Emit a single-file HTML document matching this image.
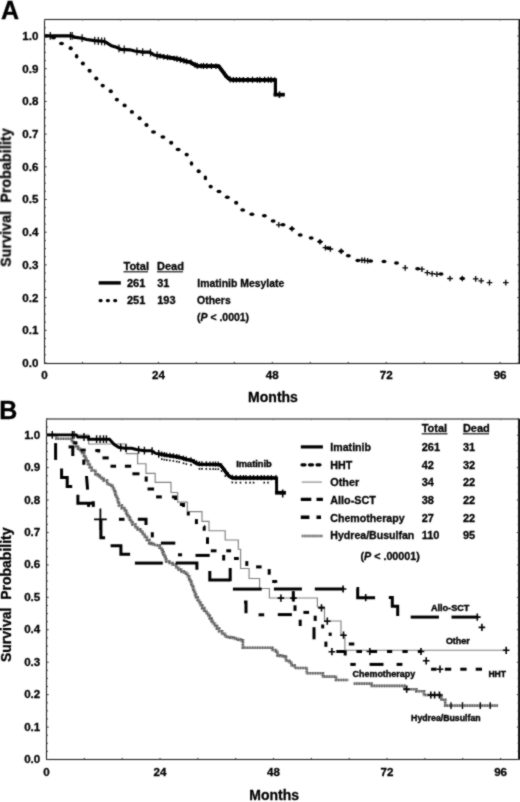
<!DOCTYPE html>
<html><head><meta charset="utf-8"><style>
html,body{margin:0;padding:0;background:#fff;}
svg{display:block;font-family:"Liberation Sans", sans-serif;filter:grayscale(1);}
text{stroke:#000;stroke-width:0.3px;}
</style></head><body>
<svg width="520" height="802" viewBox="0 0 520 802">
<defs><filter id="soft" x="0" y="0" width="100%" height="100%" filterUnits="userSpaceOnUse" color-interpolation-filters="sRGB"><feConvolveMatrix order="3" kernelMatrix="1 2 1 2 12 2 1 2 1" divisor="24" preserveAlpha="true"/></filter></defs>
<g filter="url(#soft)">
<rect width="520" height="802" fill="#fff"/>
<rect x="44.5" y="19.5" width="475.0" height="344.0" fill="none" stroke="#222" stroke-width="1.1"/>
<line x1="519.5" y1="19.5" x2="519.5" y2="363.5" stroke="#111" stroke-width="1.8"/>
<line x1="44.5" y1="363.00" x2="46.7" y2="363.00" stroke="#333" stroke-width="1"/>
<line x1="519.5" y1="363.00" x2="517.3" y2="363.00" stroke="#333" stroke-width="1"/>
<line x1="44.5" y1="354.82" x2="45.9" y2="354.82" stroke="#333" stroke-width="1"/>
<line x1="519.5" y1="354.82" x2="518.1" y2="354.82" stroke="#333" stroke-width="1"/>
<line x1="44.5" y1="346.65" x2="45.9" y2="346.65" stroke="#333" stroke-width="1"/>
<line x1="519.5" y1="346.65" x2="518.1" y2="346.65" stroke="#333" stroke-width="1"/>
<line x1="44.5" y1="338.48" x2="45.9" y2="338.48" stroke="#333" stroke-width="1"/>
<line x1="519.5" y1="338.48" x2="518.1" y2="338.48" stroke="#333" stroke-width="1"/>
<line x1="44.5" y1="330.30" x2="46.7" y2="330.30" stroke="#333" stroke-width="1"/>
<line x1="519.5" y1="330.30" x2="517.3" y2="330.30" stroke="#333" stroke-width="1"/>
<line x1="44.5" y1="322.12" x2="45.9" y2="322.12" stroke="#333" stroke-width="1"/>
<line x1="519.5" y1="322.12" x2="518.1" y2="322.12" stroke="#333" stroke-width="1"/>
<line x1="44.5" y1="313.95" x2="45.9" y2="313.95" stroke="#333" stroke-width="1"/>
<line x1="519.5" y1="313.95" x2="518.1" y2="313.95" stroke="#333" stroke-width="1"/>
<line x1="44.5" y1="305.77" x2="45.9" y2="305.77" stroke="#333" stroke-width="1"/>
<line x1="519.5" y1="305.77" x2="518.1" y2="305.77" stroke="#333" stroke-width="1"/>
<line x1="44.5" y1="297.60" x2="46.7" y2="297.60" stroke="#333" stroke-width="1"/>
<line x1="519.5" y1="297.60" x2="517.3" y2="297.60" stroke="#333" stroke-width="1"/>
<line x1="44.5" y1="289.43" x2="45.9" y2="289.43" stroke="#333" stroke-width="1"/>
<line x1="519.5" y1="289.43" x2="518.1" y2="289.43" stroke="#333" stroke-width="1"/>
<line x1="44.5" y1="281.25" x2="45.9" y2="281.25" stroke="#333" stroke-width="1"/>
<line x1="519.5" y1="281.25" x2="518.1" y2="281.25" stroke="#333" stroke-width="1"/>
<line x1="44.5" y1="273.07" x2="45.9" y2="273.07" stroke="#333" stroke-width="1"/>
<line x1="519.5" y1="273.07" x2="518.1" y2="273.07" stroke="#333" stroke-width="1"/>
<line x1="44.5" y1="264.90" x2="46.7" y2="264.90" stroke="#333" stroke-width="1"/>
<line x1="519.5" y1="264.90" x2="517.3" y2="264.90" stroke="#333" stroke-width="1"/>
<line x1="44.5" y1="256.73" x2="45.9" y2="256.73" stroke="#333" stroke-width="1"/>
<line x1="519.5" y1="256.73" x2="518.1" y2="256.73" stroke="#333" stroke-width="1"/>
<line x1="44.5" y1="248.55" x2="45.9" y2="248.55" stroke="#333" stroke-width="1"/>
<line x1="519.5" y1="248.55" x2="518.1" y2="248.55" stroke="#333" stroke-width="1"/>
<line x1="44.5" y1="240.38" x2="45.9" y2="240.38" stroke="#333" stroke-width="1"/>
<line x1="519.5" y1="240.38" x2="518.1" y2="240.38" stroke="#333" stroke-width="1"/>
<line x1="44.5" y1="232.20" x2="46.7" y2="232.20" stroke="#333" stroke-width="1"/>
<line x1="519.5" y1="232.20" x2="517.3" y2="232.20" stroke="#333" stroke-width="1"/>
<line x1="44.5" y1="224.02" x2="45.9" y2="224.02" stroke="#333" stroke-width="1"/>
<line x1="519.5" y1="224.02" x2="518.1" y2="224.02" stroke="#333" stroke-width="1"/>
<line x1="44.5" y1="215.85" x2="45.9" y2="215.85" stroke="#333" stroke-width="1"/>
<line x1="519.5" y1="215.85" x2="518.1" y2="215.85" stroke="#333" stroke-width="1"/>
<line x1="44.5" y1="207.67" x2="45.9" y2="207.67" stroke="#333" stroke-width="1"/>
<line x1="519.5" y1="207.67" x2="518.1" y2="207.67" stroke="#333" stroke-width="1"/>
<line x1="44.5" y1="199.50" x2="46.7" y2="199.50" stroke="#333" stroke-width="1"/>
<line x1="519.5" y1="199.50" x2="517.3" y2="199.50" stroke="#333" stroke-width="1"/>
<line x1="44.5" y1="191.32" x2="45.9" y2="191.32" stroke="#333" stroke-width="1"/>
<line x1="519.5" y1="191.32" x2="518.1" y2="191.32" stroke="#333" stroke-width="1"/>
<line x1="44.5" y1="183.15" x2="45.9" y2="183.15" stroke="#333" stroke-width="1"/>
<line x1="519.5" y1="183.15" x2="518.1" y2="183.15" stroke="#333" stroke-width="1"/>
<line x1="44.5" y1="174.97" x2="45.9" y2="174.97" stroke="#333" stroke-width="1"/>
<line x1="519.5" y1="174.97" x2="518.1" y2="174.97" stroke="#333" stroke-width="1"/>
<line x1="44.5" y1="166.80" x2="46.7" y2="166.80" stroke="#333" stroke-width="1"/>
<line x1="519.5" y1="166.80" x2="517.3" y2="166.80" stroke="#333" stroke-width="1"/>
<line x1="44.5" y1="158.62" x2="45.9" y2="158.62" stroke="#333" stroke-width="1"/>
<line x1="519.5" y1="158.62" x2="518.1" y2="158.62" stroke="#333" stroke-width="1"/>
<line x1="44.5" y1="150.45" x2="45.9" y2="150.45" stroke="#333" stroke-width="1"/>
<line x1="519.5" y1="150.45" x2="518.1" y2="150.45" stroke="#333" stroke-width="1"/>
<line x1="44.5" y1="142.27" x2="45.9" y2="142.27" stroke="#333" stroke-width="1"/>
<line x1="519.5" y1="142.27" x2="518.1" y2="142.27" stroke="#333" stroke-width="1"/>
<line x1="44.5" y1="134.10" x2="46.7" y2="134.10" stroke="#333" stroke-width="1"/>
<line x1="519.5" y1="134.10" x2="517.3" y2="134.10" stroke="#333" stroke-width="1"/>
<line x1="44.5" y1="125.92" x2="45.9" y2="125.92" stroke="#333" stroke-width="1"/>
<line x1="519.5" y1="125.92" x2="518.1" y2="125.92" stroke="#333" stroke-width="1"/>
<line x1="44.5" y1="117.75" x2="45.9" y2="117.75" stroke="#333" stroke-width="1"/>
<line x1="519.5" y1="117.75" x2="518.1" y2="117.75" stroke="#333" stroke-width="1"/>
<line x1="44.5" y1="109.57" x2="45.9" y2="109.57" stroke="#333" stroke-width="1"/>
<line x1="519.5" y1="109.57" x2="518.1" y2="109.57" stroke="#333" stroke-width="1"/>
<line x1="44.5" y1="101.40" x2="46.7" y2="101.40" stroke="#333" stroke-width="1"/>
<line x1="519.5" y1="101.40" x2="517.3" y2="101.40" stroke="#333" stroke-width="1"/>
<line x1="44.5" y1="93.22" x2="45.9" y2="93.22" stroke="#333" stroke-width="1"/>
<line x1="519.5" y1="93.22" x2="518.1" y2="93.22" stroke="#333" stroke-width="1"/>
<line x1="44.5" y1="85.05" x2="45.9" y2="85.05" stroke="#333" stroke-width="1"/>
<line x1="519.5" y1="85.05" x2="518.1" y2="85.05" stroke="#333" stroke-width="1"/>
<line x1="44.5" y1="76.88" x2="45.9" y2="76.88" stroke="#333" stroke-width="1"/>
<line x1="519.5" y1="76.88" x2="518.1" y2="76.88" stroke="#333" stroke-width="1"/>
<line x1="44.5" y1="68.70" x2="46.7" y2="68.70" stroke="#333" stroke-width="1"/>
<line x1="519.5" y1="68.70" x2="517.3" y2="68.70" stroke="#333" stroke-width="1"/>
<line x1="44.5" y1="60.52" x2="45.9" y2="60.52" stroke="#333" stroke-width="1"/>
<line x1="519.5" y1="60.52" x2="518.1" y2="60.52" stroke="#333" stroke-width="1"/>
<line x1="44.5" y1="52.35" x2="45.9" y2="52.35" stroke="#333" stroke-width="1"/>
<line x1="519.5" y1="52.35" x2="518.1" y2="52.35" stroke="#333" stroke-width="1"/>
<line x1="44.5" y1="44.17" x2="45.9" y2="44.17" stroke="#333" stroke-width="1"/>
<line x1="519.5" y1="44.17" x2="518.1" y2="44.17" stroke="#333" stroke-width="1"/>
<line x1="44.5" y1="36.00" x2="46.7" y2="36.00" stroke="#333" stroke-width="1"/>
<line x1="519.5" y1="36.00" x2="517.3" y2="36.00" stroke="#333" stroke-width="1"/>
<line x1="44.5" y1="27.82" x2="45.9" y2="27.82" stroke="#333" stroke-width="1"/>
<line x1="519.5" y1="27.82" x2="518.1" y2="27.82" stroke="#333" stroke-width="1"/>
<line x1="44.5" y1="19.65" x2="45.9" y2="19.65" stroke="#333" stroke-width="1"/>
<line x1="519.5" y1="19.65" x2="518.1" y2="19.65" stroke="#333" stroke-width="1"/>
<line x1="44.50" y1="363.5" x2="44.50" y2="361.9" stroke="#333" stroke-width="1"/>
<line x1="44.50" y1="19.5" x2="44.50" y2="20.9" stroke="#777" stroke-width="0.8"/>
<line x1="82.47" y1="363.5" x2="82.47" y2="361.9" stroke="#333" stroke-width="1"/>
<line x1="82.47" y1="19.5" x2="82.47" y2="20.9" stroke="#777" stroke-width="0.8"/>
<line x1="120.44" y1="363.5" x2="120.44" y2="361.9" stroke="#333" stroke-width="1"/>
<line x1="120.44" y1="19.5" x2="120.44" y2="20.9" stroke="#777" stroke-width="0.8"/>
<line x1="158.40" y1="363.5" x2="158.40" y2="361.9" stroke="#333" stroke-width="1"/>
<line x1="158.40" y1="19.5" x2="158.40" y2="20.9" stroke="#777" stroke-width="0.8"/>
<line x1="196.37" y1="363.5" x2="196.37" y2="361.9" stroke="#333" stroke-width="1"/>
<line x1="196.37" y1="19.5" x2="196.37" y2="20.9" stroke="#777" stroke-width="0.8"/>
<line x1="234.34" y1="363.5" x2="234.34" y2="361.9" stroke="#333" stroke-width="1"/>
<line x1="234.34" y1="19.5" x2="234.34" y2="20.9" stroke="#777" stroke-width="0.8"/>
<line x1="272.31" y1="363.5" x2="272.31" y2="361.9" stroke="#333" stroke-width="1"/>
<line x1="272.31" y1="19.5" x2="272.31" y2="20.9" stroke="#777" stroke-width="0.8"/>
<line x1="310.28" y1="363.5" x2="310.28" y2="361.9" stroke="#333" stroke-width="1"/>
<line x1="310.28" y1="19.5" x2="310.28" y2="20.9" stroke="#777" stroke-width="0.8"/>
<line x1="348.24" y1="363.5" x2="348.24" y2="361.9" stroke="#333" stroke-width="1"/>
<line x1="348.24" y1="19.5" x2="348.24" y2="20.9" stroke="#777" stroke-width="0.8"/>
<line x1="386.21" y1="363.5" x2="386.21" y2="361.9" stroke="#333" stroke-width="1"/>
<line x1="386.21" y1="19.5" x2="386.21" y2="20.9" stroke="#777" stroke-width="0.8"/>
<line x1="424.18" y1="363.5" x2="424.18" y2="361.9" stroke="#333" stroke-width="1"/>
<line x1="424.18" y1="19.5" x2="424.18" y2="20.9" stroke="#777" stroke-width="0.8"/>
<line x1="462.15" y1="363.5" x2="462.15" y2="361.9" stroke="#333" stroke-width="1"/>
<line x1="462.15" y1="19.5" x2="462.15" y2="20.9" stroke="#777" stroke-width="0.8"/>
<line x1="500.12" y1="363.5" x2="500.12" y2="361.9" stroke="#333" stroke-width="1"/>
<line x1="500.12" y1="19.5" x2="500.12" y2="20.9" stroke="#777" stroke-width="0.8"/>
<text x="38.4" y="366.90" font-size="11.6" text-anchor="end" font-weight="bold" >0.0</text>
<text x="38.4" y="334.20" font-size="11.6" text-anchor="end" font-weight="bold" >0.1</text>
<text x="38.4" y="301.50" font-size="11.6" text-anchor="end" font-weight="bold" >0.2</text>
<text x="38.4" y="268.80" font-size="11.6" text-anchor="end" font-weight="bold" >0.3</text>
<text x="38.4" y="236.10" font-size="11.6" text-anchor="end" font-weight="bold" >0.4</text>
<text x="38.4" y="203.40" font-size="11.6" text-anchor="end" font-weight="bold" >0.5</text>
<text x="38.4" y="170.70" font-size="11.6" text-anchor="end" font-weight="bold" >0.6</text>
<text x="38.4" y="138.00" font-size="11.6" text-anchor="end" font-weight="bold" >0.7</text>
<text x="38.4" y="105.30" font-size="11.6" text-anchor="end" font-weight="bold" >0.8</text>
<text x="38.4" y="72.60" font-size="11.6" text-anchor="end" font-weight="bold" >0.9</text>
<text x="38.4" y="39.90" font-size="11.6" text-anchor="end" font-weight="bold" >1.0</text>
<text x="44.50" y="379.2" font-size="11.6" text-anchor="middle" font-weight="bold" >0</text>
<text x="158.40" y="379.2" font-size="11.6" text-anchor="middle" font-weight="bold" >24</text>
<text x="272.31" y="379.2" font-size="11.6" text-anchor="middle" font-weight="bold" >48</text>
<text x="386.21" y="379.2" font-size="11.6" text-anchor="middle" font-weight="bold" >72</text>
<text x="500.12" y="379.2" font-size="11.6" text-anchor="middle" font-weight="bold" >96</text>
<text x="273" y="402.3" font-size="14" text-anchor="middle" font-weight="bold" >Months</text>
<text x="0" y="0" font-size="14" font-weight="bold" text-anchor="middle" transform="translate(10.75,197.55) rotate(-90)" textLength="138.4" lengthAdjust="spacing">Survival&#160; Probability</text>
<rect x="46.5" y="419.0" width="472.5" height="340.5" fill="none" stroke="#222" stroke-width="1.1"/>
<line x1="519.0" y1="419.0" x2="519.0" y2="759.5" stroke="#111" stroke-width="1.8"/>
<line x1="46.5" y1="759.50" x2="48.7" y2="759.50" stroke="#333" stroke-width="1"/>
<line x1="519.0" y1="759.50" x2="516.8" y2="759.50" stroke="#333" stroke-width="1"/>
<line x1="46.5" y1="751.39" x2="47.9" y2="751.39" stroke="#333" stroke-width="1"/>
<line x1="519.0" y1="751.39" x2="517.6" y2="751.39" stroke="#333" stroke-width="1"/>
<line x1="46.5" y1="743.28" x2="47.9" y2="743.28" stroke="#333" stroke-width="1"/>
<line x1="519.0" y1="743.28" x2="517.6" y2="743.28" stroke="#333" stroke-width="1"/>
<line x1="46.5" y1="735.18" x2="47.9" y2="735.18" stroke="#333" stroke-width="1"/>
<line x1="519.0" y1="735.18" x2="517.6" y2="735.18" stroke="#333" stroke-width="1"/>
<line x1="46.5" y1="727.07" x2="48.7" y2="727.07" stroke="#333" stroke-width="1"/>
<line x1="519.0" y1="727.07" x2="516.8" y2="727.07" stroke="#333" stroke-width="1"/>
<line x1="46.5" y1="718.96" x2="47.9" y2="718.96" stroke="#333" stroke-width="1"/>
<line x1="519.0" y1="718.96" x2="517.6" y2="718.96" stroke="#333" stroke-width="1"/>
<line x1="46.5" y1="710.86" x2="47.9" y2="710.86" stroke="#333" stroke-width="1"/>
<line x1="519.0" y1="710.86" x2="517.6" y2="710.86" stroke="#333" stroke-width="1"/>
<line x1="46.5" y1="702.75" x2="47.9" y2="702.75" stroke="#333" stroke-width="1"/>
<line x1="519.0" y1="702.75" x2="517.6" y2="702.75" stroke="#333" stroke-width="1"/>
<line x1="46.5" y1="694.64" x2="48.7" y2="694.64" stroke="#333" stroke-width="1"/>
<line x1="519.0" y1="694.64" x2="516.8" y2="694.64" stroke="#333" stroke-width="1"/>
<line x1="46.5" y1="686.53" x2="47.9" y2="686.53" stroke="#333" stroke-width="1"/>
<line x1="519.0" y1="686.53" x2="517.6" y2="686.53" stroke="#333" stroke-width="1"/>
<line x1="46.5" y1="678.42" x2="47.9" y2="678.42" stroke="#333" stroke-width="1"/>
<line x1="519.0" y1="678.42" x2="517.6" y2="678.42" stroke="#333" stroke-width="1"/>
<line x1="46.5" y1="670.32" x2="47.9" y2="670.32" stroke="#333" stroke-width="1"/>
<line x1="519.0" y1="670.32" x2="517.6" y2="670.32" stroke="#333" stroke-width="1"/>
<line x1="46.5" y1="662.21" x2="48.7" y2="662.21" stroke="#333" stroke-width="1"/>
<line x1="519.0" y1="662.21" x2="516.8" y2="662.21" stroke="#333" stroke-width="1"/>
<line x1="46.5" y1="654.10" x2="47.9" y2="654.10" stroke="#333" stroke-width="1"/>
<line x1="519.0" y1="654.10" x2="517.6" y2="654.10" stroke="#333" stroke-width="1"/>
<line x1="46.5" y1="646.00" x2="47.9" y2="646.00" stroke="#333" stroke-width="1"/>
<line x1="519.0" y1="646.00" x2="517.6" y2="646.00" stroke="#333" stroke-width="1"/>
<line x1="46.5" y1="637.89" x2="47.9" y2="637.89" stroke="#333" stroke-width="1"/>
<line x1="519.0" y1="637.89" x2="517.6" y2="637.89" stroke="#333" stroke-width="1"/>
<line x1="46.5" y1="629.78" x2="48.7" y2="629.78" stroke="#333" stroke-width="1"/>
<line x1="519.0" y1="629.78" x2="516.8" y2="629.78" stroke="#333" stroke-width="1"/>
<line x1="46.5" y1="621.67" x2="47.9" y2="621.67" stroke="#333" stroke-width="1"/>
<line x1="519.0" y1="621.67" x2="517.6" y2="621.67" stroke="#333" stroke-width="1"/>
<line x1="46.5" y1="613.57" x2="47.9" y2="613.57" stroke="#333" stroke-width="1"/>
<line x1="519.0" y1="613.57" x2="517.6" y2="613.57" stroke="#333" stroke-width="1"/>
<line x1="46.5" y1="605.46" x2="47.9" y2="605.46" stroke="#333" stroke-width="1"/>
<line x1="519.0" y1="605.46" x2="517.6" y2="605.46" stroke="#333" stroke-width="1"/>
<line x1="46.5" y1="597.35" x2="48.7" y2="597.35" stroke="#333" stroke-width="1"/>
<line x1="519.0" y1="597.35" x2="516.8" y2="597.35" stroke="#333" stroke-width="1"/>
<line x1="46.5" y1="589.24" x2="47.9" y2="589.24" stroke="#333" stroke-width="1"/>
<line x1="519.0" y1="589.24" x2="517.6" y2="589.24" stroke="#333" stroke-width="1"/>
<line x1="46.5" y1="581.13" x2="47.9" y2="581.13" stroke="#333" stroke-width="1"/>
<line x1="519.0" y1="581.13" x2="517.6" y2="581.13" stroke="#333" stroke-width="1"/>
<line x1="46.5" y1="573.03" x2="47.9" y2="573.03" stroke="#333" stroke-width="1"/>
<line x1="519.0" y1="573.03" x2="517.6" y2="573.03" stroke="#333" stroke-width="1"/>
<line x1="46.5" y1="564.92" x2="48.7" y2="564.92" stroke="#333" stroke-width="1"/>
<line x1="519.0" y1="564.92" x2="516.8" y2="564.92" stroke="#333" stroke-width="1"/>
<line x1="46.5" y1="556.81" x2="47.9" y2="556.81" stroke="#333" stroke-width="1"/>
<line x1="519.0" y1="556.81" x2="517.6" y2="556.81" stroke="#333" stroke-width="1"/>
<line x1="46.5" y1="548.70" x2="47.9" y2="548.70" stroke="#333" stroke-width="1"/>
<line x1="519.0" y1="548.70" x2="517.6" y2="548.70" stroke="#333" stroke-width="1"/>
<line x1="46.5" y1="540.60" x2="47.9" y2="540.60" stroke="#333" stroke-width="1"/>
<line x1="519.0" y1="540.60" x2="517.6" y2="540.60" stroke="#333" stroke-width="1"/>
<line x1="46.5" y1="532.49" x2="48.7" y2="532.49" stroke="#333" stroke-width="1"/>
<line x1="519.0" y1="532.49" x2="516.8" y2="532.49" stroke="#333" stroke-width="1"/>
<line x1="46.5" y1="524.38" x2="47.9" y2="524.38" stroke="#333" stroke-width="1"/>
<line x1="519.0" y1="524.38" x2="517.6" y2="524.38" stroke="#333" stroke-width="1"/>
<line x1="46.5" y1="516.27" x2="47.9" y2="516.27" stroke="#333" stroke-width="1"/>
<line x1="519.0" y1="516.27" x2="517.6" y2="516.27" stroke="#333" stroke-width="1"/>
<line x1="46.5" y1="508.17" x2="47.9" y2="508.17" stroke="#333" stroke-width="1"/>
<line x1="519.0" y1="508.17" x2="517.6" y2="508.17" stroke="#333" stroke-width="1"/>
<line x1="46.5" y1="500.06" x2="48.7" y2="500.06" stroke="#333" stroke-width="1"/>
<line x1="519.0" y1="500.06" x2="516.8" y2="500.06" stroke="#333" stroke-width="1"/>
<line x1="46.5" y1="491.95" x2="47.9" y2="491.95" stroke="#333" stroke-width="1"/>
<line x1="519.0" y1="491.95" x2="517.6" y2="491.95" stroke="#333" stroke-width="1"/>
<line x1="46.5" y1="483.84" x2="47.9" y2="483.84" stroke="#333" stroke-width="1"/>
<line x1="519.0" y1="483.84" x2="517.6" y2="483.84" stroke="#333" stroke-width="1"/>
<line x1="46.5" y1="475.74" x2="47.9" y2="475.74" stroke="#333" stroke-width="1"/>
<line x1="519.0" y1="475.74" x2="517.6" y2="475.74" stroke="#333" stroke-width="1"/>
<line x1="46.5" y1="467.63" x2="48.7" y2="467.63" stroke="#333" stroke-width="1"/>
<line x1="519.0" y1="467.63" x2="516.8" y2="467.63" stroke="#333" stroke-width="1"/>
<line x1="46.5" y1="459.52" x2="47.9" y2="459.52" stroke="#333" stroke-width="1"/>
<line x1="519.0" y1="459.52" x2="517.6" y2="459.52" stroke="#333" stroke-width="1"/>
<line x1="46.5" y1="451.41" x2="47.9" y2="451.41" stroke="#333" stroke-width="1"/>
<line x1="519.0" y1="451.41" x2="517.6" y2="451.41" stroke="#333" stroke-width="1"/>
<line x1="46.5" y1="443.31" x2="47.9" y2="443.31" stroke="#333" stroke-width="1"/>
<line x1="519.0" y1="443.31" x2="517.6" y2="443.31" stroke="#333" stroke-width="1"/>
<line x1="46.5" y1="435.20" x2="48.7" y2="435.20" stroke="#333" stroke-width="1"/>
<line x1="519.0" y1="435.20" x2="516.8" y2="435.20" stroke="#333" stroke-width="1"/>
<line x1="46.5" y1="427.09" x2="47.9" y2="427.09" stroke="#333" stroke-width="1"/>
<line x1="519.0" y1="427.09" x2="517.6" y2="427.09" stroke="#333" stroke-width="1"/>
<line x1="46.5" y1="418.98" x2="47.9" y2="418.98" stroke="#333" stroke-width="1"/>
<line x1="519.0" y1="418.98" x2="517.6" y2="418.98" stroke="#333" stroke-width="1"/>
<line x1="46.50" y1="759.5" x2="46.50" y2="757.9" stroke="#333" stroke-width="1"/>
<line x1="46.50" y1="419.0" x2="46.50" y2="420.4" stroke="#777" stroke-width="0.8"/>
<line x1="84.34" y1="759.5" x2="84.34" y2="757.9" stroke="#333" stroke-width="1"/>
<line x1="84.34" y1="419.0" x2="84.34" y2="420.4" stroke="#777" stroke-width="0.8"/>
<line x1="122.18" y1="759.5" x2="122.18" y2="757.9" stroke="#333" stroke-width="1"/>
<line x1="122.18" y1="419.0" x2="122.18" y2="420.4" stroke="#777" stroke-width="0.8"/>
<line x1="160.02" y1="759.5" x2="160.02" y2="757.9" stroke="#333" stroke-width="1"/>
<line x1="160.02" y1="419.0" x2="160.02" y2="420.4" stroke="#777" stroke-width="0.8"/>
<line x1="197.86" y1="759.5" x2="197.86" y2="757.9" stroke="#333" stroke-width="1"/>
<line x1="197.86" y1="419.0" x2="197.86" y2="420.4" stroke="#777" stroke-width="0.8"/>
<line x1="235.70" y1="759.5" x2="235.70" y2="757.9" stroke="#333" stroke-width="1"/>
<line x1="235.70" y1="419.0" x2="235.70" y2="420.4" stroke="#777" stroke-width="0.8"/>
<line x1="273.54" y1="759.5" x2="273.54" y2="757.9" stroke="#333" stroke-width="1"/>
<line x1="273.54" y1="419.0" x2="273.54" y2="420.4" stroke="#777" stroke-width="0.8"/>
<line x1="311.38" y1="759.5" x2="311.38" y2="757.9" stroke="#333" stroke-width="1"/>
<line x1="311.38" y1="419.0" x2="311.38" y2="420.4" stroke="#777" stroke-width="0.8"/>
<line x1="349.22" y1="759.5" x2="349.22" y2="757.9" stroke="#333" stroke-width="1"/>
<line x1="349.22" y1="419.0" x2="349.22" y2="420.4" stroke="#777" stroke-width="0.8"/>
<line x1="387.06" y1="759.5" x2="387.06" y2="757.9" stroke="#333" stroke-width="1"/>
<line x1="387.06" y1="419.0" x2="387.06" y2="420.4" stroke="#777" stroke-width="0.8"/>
<line x1="424.90" y1="759.5" x2="424.90" y2="757.9" stroke="#333" stroke-width="1"/>
<line x1="424.90" y1="419.0" x2="424.90" y2="420.4" stroke="#777" stroke-width="0.8"/>
<line x1="462.74" y1="759.5" x2="462.74" y2="757.9" stroke="#333" stroke-width="1"/>
<line x1="462.74" y1="419.0" x2="462.74" y2="420.4" stroke="#777" stroke-width="0.8"/>
<line x1="500.58" y1="759.5" x2="500.58" y2="757.9" stroke="#333" stroke-width="1"/>
<line x1="500.58" y1="419.0" x2="500.58" y2="420.4" stroke="#777" stroke-width="0.8"/>
<text x="40.3" y="763.00" font-size="11.6" text-anchor="end" font-weight="bold" >0.0</text>
<text x="40.3" y="730.57" font-size="11.6" text-anchor="end" font-weight="bold" >0.1</text>
<text x="40.3" y="698.14" font-size="11.6" text-anchor="end" font-weight="bold" >0.2</text>
<text x="40.3" y="665.71" font-size="11.6" text-anchor="end" font-weight="bold" >0.3</text>
<text x="40.3" y="633.28" font-size="11.6" text-anchor="end" font-weight="bold" >0.4</text>
<text x="40.3" y="600.85" font-size="11.6" text-anchor="end" font-weight="bold" >0.5</text>
<text x="40.3" y="568.42" font-size="11.6" text-anchor="end" font-weight="bold" >0.6</text>
<text x="40.3" y="535.99" font-size="11.6" text-anchor="end" font-weight="bold" >0.7</text>
<text x="40.3" y="503.56" font-size="11.6" text-anchor="end" font-weight="bold" >0.8</text>
<text x="40.3" y="471.13" font-size="11.6" text-anchor="end" font-weight="bold" >0.9</text>
<text x="40.3" y="438.70" font-size="11.6" text-anchor="end" font-weight="bold" >1.0</text>
<text x="46.50" y="775.6" font-size="11.6" text-anchor="middle" font-weight="bold" >0</text>
<text x="160.02" y="775.6" font-size="11.6" text-anchor="middle" font-weight="bold" >24</text>
<text x="273.54" y="775.6" font-size="11.6" text-anchor="middle" font-weight="bold" >48</text>
<text x="387.06" y="775.6" font-size="11.6" text-anchor="middle" font-weight="bold" >72</text>
<text x="500.58" y="775.6" font-size="11.6" text-anchor="middle" font-weight="bold" >96</text>
<text x="274.2" y="800.4" font-size="14" text-anchor="middle" font-weight="bold" >Months</text>
<text x="0" y="0" font-size="14" font-weight="bold" text-anchor="middle" transform="translate(10.75,594.8) rotate(-90)">Survival&#160; Probability</text>
<text x="1" y="18.8" font-size="25" text-anchor="start" font-weight="bold" >A</text>
<text x="-0.7" y="418.9" font-size="25" text-anchor="start" font-weight="bold" >B</text>
<text x="123.5" y="270" font-size="11" text-anchor="start" font-weight="bold" >Total</text>
<text x="157" y="270" font-size="11" text-anchor="start" font-weight="bold" >Dead</text>
<line x1="123.5" y1="271.8" x2="148" y2="271.8" stroke="#000" stroke-width="1.1"/>
<line x1="157" y1="271.8" x2="183" y2="271.8" stroke="#000" stroke-width="1.1"/>
<line x1="98.7" y1="282.9" x2="120.8" y2="282.9" stroke="#000" stroke-width="3.4"/>
<line x1="100.2" y1="300.6" x2="116" y2="300.6" stroke="#000" stroke-width="3.4" stroke-linecap="round" stroke-dasharray="0.8 6.5"/>
<text x="127" y="286.8" font-size="11" text-anchor="start" font-weight="bold" >261</text>
<text x="157.2" y="286.8" font-size="11" text-anchor="start" font-weight="bold" >31</text>
<text x="197.3" y="287.3" font-size="11" text-anchor="start" font-weight="bold"  textLength="87.0" lengthAdjust="spacingAndGlyphs">Imatinib Mesylate</text>
<text x="127" y="304.2" font-size="11" text-anchor="start" font-weight="bold" >251</text>
<text x="157.2" y="304.2" font-size="11" text-anchor="start" font-weight="bold" >193</text>
<text x="197.1" y="304.3" font-size="11" text-anchor="start" font-weight="bold"  textLength="33.6" lengthAdjust="spacingAndGlyphs">Others</text>
<text x="197.1" y="321.3" font-size="11" text-anchor="start" font-weight="bold"  textLength="52.0" lengthAdjust="spacingAndGlyphs">(<tspan font-style="italic">P</tspan> &lt; .0001)</text>
<text x="421.7" y="432" font-size="11" text-anchor="start" font-weight="bold" >Total</text>
<text x="462.9" y="432" font-size="11" text-anchor="start" font-weight="bold" >Dead</text>
<line x1="421.7" y1="433.8" x2="447.5" y2="433.8" stroke="#000" stroke-width="1.1"/>
<line x1="462.9" y1="433.8" x2="489" y2="433.8" stroke="#000" stroke-width="1.1"/>
<text x="330.3" y="450.9" font-size="11" text-anchor="start" font-weight="bold"  textLength="40.7" lengthAdjust="spacingAndGlyphs">Imatinib</text>
<text x="421.7" y="450.9" font-size="11" text-anchor="start" font-weight="bold" >261</text>
<text x="462.9" y="450.9" font-size="11" text-anchor="start" font-weight="bold" >31</text>
<text x="330.3" y="468.5" font-size="11" text-anchor="start" font-weight="bold"  textLength="22.0" lengthAdjust="spacingAndGlyphs">HHT</text>
<text x="421.7" y="468.5" font-size="11" text-anchor="start" font-weight="bold" >42</text>
<text x="462.9" y="468.5" font-size="11" text-anchor="start" font-weight="bold" >32</text>
<text x="330.3" y="486.1" font-size="11" text-anchor="start" font-weight="bold"  textLength="28.8" lengthAdjust="spacingAndGlyphs">Other</text>
<text x="421.7" y="486.1" font-size="11" text-anchor="start" font-weight="bold" >34</text>
<text x="462.9" y="486.1" font-size="11" text-anchor="start" font-weight="bold" >22</text>
<text x="330.3" y="503.8" font-size="11" text-anchor="start" font-weight="bold"  textLength="45.5" lengthAdjust="spacingAndGlyphs">Allo-SCT</text>
<text x="421.7" y="503.8" font-size="11" text-anchor="start" font-weight="bold" >38</text>
<text x="462.9" y="503.8" font-size="11" text-anchor="start" font-weight="bold" >22</text>
<text x="330.3" y="521.5" font-size="11" text-anchor="start" font-weight="bold"  textLength="74.3" lengthAdjust="spacingAndGlyphs">Chemotherapy</text>
<text x="421.7" y="521.5" font-size="11" text-anchor="start" font-weight="bold" >27</text>
<text x="462.9" y="521.5" font-size="11" text-anchor="start" font-weight="bold" >22</text>
<text x="330.3" y="539.3" font-size="11" text-anchor="start" font-weight="bold"  textLength="84.0" lengthAdjust="spacingAndGlyphs">Hydrea/Busulfan</text>
<text x="421.7" y="539.3" font-size="11" text-anchor="start" font-weight="bold" >110</text>
<text x="462.9" y="539.3" font-size="11" text-anchor="start" font-weight="bold" >95</text>
<text x="360.5" y="559.6" font-size="11" text-anchor="start" font-weight="bold"  textLength="59.3" lengthAdjust="spacingAndGlyphs">(<tspan font-style="italic">P</tspan> &lt; .00001)</text>
<line x1="300.8" y1="446.9" x2="322.9" y2="446.9" stroke="#000" stroke-width="3.2"/>
<line x1="302" y1="464.8" x2="323" y2="464.8" stroke="#000" stroke-width="3.2" stroke-linecap="round" stroke-dasharray="3 4.5"/>
<line x1="301.7" y1="482.1" x2="321.9" y2="482.1" stroke="#8a8a8a" stroke-width="1.2"/>
<line x1="300.8" y1="499.4" x2="322.9" y2="499.4" stroke="#000" stroke-width="3.4" stroke-dasharray="10.5 5.2"/>
<line x1="300.8" y1="517.3" x2="321" y2="517.3" stroke="#000" stroke-width="3.4" stroke-dasharray="8.6 7.1"/>
<line x1="301.7" y1="536.0" x2="322.9" y2="536.0" stroke="#a2a2a2" stroke-width="2.6"/>
<line x1="301.7" y1="536.0" x2="322.9" y2="536.0" stroke="#4a4a4a" stroke-width="2.6" stroke-dasharray="1.3 1.3" opacity="0.5"/>
<text x="236.2" y="466.9" font-size="9.5" text-anchor="start" font-weight="bold"  textLength="35.6" lengthAdjust="spacingAndGlyphs" style="stroke-width:0.42px">Imatinib</text>
<text x="430.9" y="611.2" font-size="9.5" text-anchor="start" font-weight="bold"  textLength="38.5" lengthAdjust="spacingAndGlyphs" style="stroke-width:0.42px">Allo-SCT</text>
<text x="445.9" y="644.2" font-size="9.5" text-anchor="start" font-weight="bold"  textLength="23.9" lengthAdjust="spacingAndGlyphs" style="stroke-width:0.42px">Other</text>
<text x="488.4" y="676.8" font-size="9.5" text-anchor="start" font-weight="bold"  textLength="17.7" lengthAdjust="spacingAndGlyphs" style="stroke-width:0.42px">HHT</text>
<text x="352.6" y="677.2" font-size="9.5" text-anchor="start" font-weight="bold"  textLength="62.5" lengthAdjust="spacingAndGlyphs" style="stroke-width:0.42px">Chemotherapy</text>
<text x="411.1" y="720.8" font-size="9.5" text-anchor="start" font-weight="bold"  textLength="69.5" lengthAdjust="spacingAndGlyphs" style="stroke-width:0.42px">Hydrea/Busulfan</text>
<path d="M45.0,35.8 L72.0,35.8 L74.0,37.2 L82.1,38.2 L86.7,39.5 L94.8,40.7 L104.6,41.5 L106.9,42.9 L111.5,45.8 L117.3,47.5 L120.8,49.3 L130.0,49.8 L134.6,51.0 L142.7,52.2 L149.6,52.2 L154.2,55.0 L160.0,56.0 L165.2,57.0 L173.3,58.1 L179.1,59.3 L184.8,61.0 L190.6,62.2 L194.1,64.5 L197.5,65.8 L218.5,66.2 L220.8,68.8 L226.2,76.3 L229.6,79.3 L232.5,79.8 L275.4,79.8 L275.4,94.6 L284.6,94.6" fill="none" stroke="#000" stroke-width="3.2" stroke-linejoin="miter" />
<path d="M157.1,55.5 L160.0,56.0 L165.2,57.0 L173.3,58.1 L179.1,59.3 L184.8,61.0 L190.6,62.2 L194.1,64.5 L197.5,65.8 L218.5,66.2 L220.8,68.8 L226.2,76.3 L229.6,79.3 L232.5,79.8 L275.0,79.8" fill="none" stroke="#000" stroke-width="3.7" stroke-linejoin="miter" />
<path d="M47.7,35.8 H52.9 M50.3,31.9 V39.7" stroke="#000" stroke-width="1.2" fill="none"/>
<path d="M67.9,35.8 H73.1 M70.5,31.9 V39.7" stroke="#000" stroke-width="1.2" fill="none"/>
<path d="M69.6,35.9 H74.8 M72.2,32.0 V39.8" stroke="#000" stroke-width="1.2" fill="none"/>
<path d="M79.5,38.2 H84.7 M82.1,34.3 V42.1" stroke="#000" stroke-width="1.2" fill="none"/>
<path d="M92.2,40.7 H97.4 M94.8,36.8 V44.6" stroke="#000" stroke-width="1.2" fill="none"/>
<path d="M95.7,41.0 H100.9 M98.3,37.1 V44.9" stroke="#000" stroke-width="1.2" fill="none"/>
<path d="M99.1,41.3 H104.3 M101.7,37.4 V45.2" stroke="#000" stroke-width="1.2" fill="none"/>
<path d="M102.0,41.5 H107.2 M104.6,37.6 V45.4" stroke="#000" stroke-width="1.2" fill="none"/>
<path d="M116.4,48.4 H121.6 M119.0,44.5 V52.3" stroke="#000" stroke-width="1.2" fill="none"/>
<path d="M121.6,49.5 H126.8 M124.2,45.6 V53.4" stroke="#000" stroke-width="1.2" fill="none"/>
<path d="M134.3,51.3 H139.5 M136.9,47.4 V55.2" stroke="#000" stroke-width="1.2" fill="none"/>
<path d="M140.1,52.2 H145.3 M142.7,48.3 V56.1" stroke="#000" stroke-width="1.2" fill="none"/>
<path d="M147.9,52.7 H153.1 M150.5,48.8 V56.6" stroke="#000" stroke-width="1.2" fill="none"/>
<path d="M154.5,55.5 H159.7 M157.1,51.6 V59.4" stroke="#000" stroke-width="1.2" fill="none"/>
<path d="M160.1,53.4 V58.6" stroke="#000" stroke-width="1.3"/>
<path d="M163.7,54.0 V59.4" stroke="#000" stroke-width="1.3"/>
<path d="M167.5,54.4 V60.2" stroke="#000" stroke-width="1.3"/>
<path d="M169.9,55.2 V60.0" stroke="#000" stroke-width="1.3"/>
<path d="M174.2,55.7 V60.9" stroke="#000" stroke-width="1.3"/>
<path d="M177.0,55.7 V62.1" stroke="#000" stroke-width="1.3"/>
<path d="M180.5,56.6 V62.8" stroke="#000" stroke-width="1.3"/>
<path d="M183.9,57.8 V63.6" stroke="#000" stroke-width="1.3"/>
<path d="M186.5,58.4 V64.3" stroke="#000" stroke-width="1.3"/>
<path d="M191.0,59.6 V65.2" stroke="#000" stroke-width="1.3"/>
<path d="M195.1,61.9 V67.8" stroke="#000" stroke-width="1.3"/>
<path d="M197.4,62.8 V68.8" stroke="#000" stroke-width="1.3"/>
<path d="M201.2,63.2 V68.5" stroke="#000" stroke-width="1.3"/>
<path d="M203.5,62.8 V69.0" stroke="#000" stroke-width="1.3"/>
<path d="M206.9,63.0 V69.0" stroke="#000" stroke-width="1.3"/>
<path d="M211.4,63.1 V69.0" stroke="#000" stroke-width="1.3"/>
<path d="M216.0,63.4 V68.9" stroke="#000" stroke-width="1.3"/>
<path d="M220.3,65.4 V70.9" stroke="#000" stroke-width="1.3"/>
<path d="M224.9,71.4 V77.6" stroke="#000" stroke-width="1.3"/>
<path d="M227.3,74.8 V79.8" stroke="#000" stroke-width="1.3"/>
<path d="M230.1,76.2 V82.6" stroke="#000" stroke-width="1.3"/>
<path d="M233.4,76.9 V82.7" stroke="#000" stroke-width="1.3"/>
<path d="M236.4,77.0 V82.6" stroke="#000" stroke-width="1.3"/>
<path d="M239.6,77.1 V82.5" stroke="#000" stroke-width="1.3"/>
<path d="M243.3,76.9 V82.7" stroke="#000" stroke-width="1.3"/>
<path d="M247.9,76.9 V82.7" stroke="#000" stroke-width="1.3"/>
<path d="M252.5,76.7 V82.9" stroke="#000" stroke-width="1.3"/>
<path d="M257.3,76.9 V82.7" stroke="#000" stroke-width="1.3"/>
<path d="M259.9,76.7 V82.9" stroke="#000" stroke-width="1.3"/>
<path d="M264.6,76.7 V82.9" stroke="#000" stroke-width="1.3"/>
<path d="M268.3,76.8 V82.8" stroke="#000" stroke-width="1.3"/>
<path d="M271.0,76.7 V82.9" stroke="#000" stroke-width="1.3"/>
<path d="M274.7,77.2 V82.4" stroke="#000" stroke-width="1.3"/>
<path d="M273.6,94.6 H284.6" stroke="#000" stroke-width="3.6"/>
<path d="M277.0,94.6 H282.0 M279.5,91.2 V98.0" stroke="#000" stroke-width="1.5" fill="none"/>
<circle cx="46.5" cy="35.8" r="1.6" fill="#000"/>
<ellipse cx="53.5" cy="37.7" rx="2.5" ry="1.75" fill="#000"/>
<ellipse cx="61.5" cy="43.5" rx="2.5" ry="1.75" fill="#000"/>
<ellipse cx="70.7" cy="48.2" rx="2.1" ry="1.95" fill="#000"/>
<ellipse cx="76.6" cy="56.3" rx="1.75" ry="2.3" fill="#000"/>
<ellipse cx="82.9" cy="63.5" rx="2.1" ry="1.95" fill="#000"/>
<ellipse cx="89.6" cy="70.8" rx="2.1" ry="1.95" fill="#000"/>
<ellipse cx="96.3" cy="78.5" rx="2.1" ry="1.95" fill="#000"/>
<ellipse cx="102.7" cy="85.6" rx="2.1" ry="1.95" fill="#000"/>
<ellipse cx="110.8" cy="91.3" rx="2.1" ry="1.95" fill="#000"/>
<ellipse cx="116.9" cy="99.6" rx="2.1" ry="1.95" fill="#000"/>
<ellipse cx="124.6" cy="105.4" rx="2.1" ry="1.95" fill="#000"/>
<ellipse cx="131.9" cy="111.9" rx="2.1" ry="1.95" fill="#000"/>
<ellipse cx="139.6" cy="118.3" rx="2.1" ry="1.95" fill="#000"/>
<ellipse cx="146.5" cy="125" rx="2.1" ry="1.95" fill="#000"/>
<ellipse cx="153.5" cy="132.1" rx="2.5" ry="1.75" fill="#000"/>
<ellipse cx="162.9" cy="136.9" rx="2.5" ry="1.75" fill="#000"/>
<ellipse cx="171.2" cy="142.7" rx="2.1" ry="1.95" fill="#000"/>
<ellipse cx="178.1" cy="149.5" rx="2.5" ry="1.75" fill="#000"/>
<ellipse cx="186.7" cy="154.6" rx="2.1" ry="1.95" fill="#000"/>
<ellipse cx="191.5" cy="163.5" rx="1.75" ry="2.3" fill="#000"/>
<ellipse cx="198.7" cy="171.2" rx="2.1" ry="1.95" fill="#000"/>
<ellipse cx="205.4" cy="177.9" rx="1.75" ry="2.3" fill="#000"/>
<ellipse cx="210.7" cy="186.6" rx="2.1" ry="1.95" fill="#000"/>
<ellipse cx="219" cy="191.5" rx="2.5" ry="1.75" fill="#000"/>
<ellipse cx="227.3" cy="197.3" rx="2.5" ry="1.75" fill="#000"/>
<ellipse cx="236.2" cy="202.7" rx="2.1" ry="1.95" fill="#000"/>
<ellipse cx="242.7" cy="210" rx="2.5" ry="1.75" fill="#000"/>
<ellipse cx="251.9" cy="214.2" rx="2.5" ry="1.75" fill="#000"/>
<ellipse cx="264.4" cy="215.8" rx="2.5" ry="1.75" fill="#000"/>
<ellipse cx="273.1" cy="221" rx="2.5" ry="1.75" fill="#000"/>
<ellipse cx="283" cy="224.8" rx="2.5" ry="1.75" fill="#000"/>
<ellipse cx="291.9" cy="228.7" rx="2.5" ry="1.75" fill="#000"/>
<ellipse cx="300.2" cy="235" rx="2.5" ry="1.75" fill="#000"/>
<ellipse cx="311.2" cy="237.9" rx="2.5" ry="1.75" fill="#000"/>
<ellipse cx="320" cy="241.7" rx="2.5" ry="1.75" fill="#000"/>
<ellipse cx="328" cy="248" rx="2.5" ry="1.75" fill="#000"/>
<ellipse cx="341.2" cy="251.3" rx="2.5" ry="1.75" fill="#000"/>
<ellipse cx="348.3" cy="255.8" rx="2.5" ry="1.75" fill="#000"/>
<ellipse cx="357.9" cy="260.4" rx="2.5" ry="1.75" fill="#000"/>
<ellipse cx="370.6" cy="261" rx="2.5" ry="1.75" fill="#000"/>
<ellipse cx="384" cy="261.5" rx="2.5" ry="1.75" fill="#000"/>
<ellipse cx="396.5" cy="263" rx="2.5" ry="1.75" fill="#000"/>
<ellipse cx="417.7" cy="268.8" rx="2.5" ry="1.75" fill="#000"/>
<ellipse cx="441" cy="274" rx="2.5" ry="1.75" fill="#000"/>
<ellipse cx="462.3" cy="278.5" rx="2.5" ry="1.75" fill="#000"/>
<path d="M276.0,224.8 H281.6 M278.8,222.0 V227.6" stroke="#000" stroke-width="1.3" fill="none"/>
<path d="M289.1,228.7 H294.7 M291.9,225.9 V231.5" stroke="#000" stroke-width="1.3" fill="none"/>
<path d="M317.2,241.7 H322.8 M320.0,238.9 V244.5" stroke="#000" stroke-width="1.3" fill="none"/>
<path d="M322.6,247.7 H328.2 M325.4,244.9 V250.5" stroke="#000" stroke-width="1.3" fill="none"/>
<path d="M327.6,249.0 H333.2 M330.4,246.2 V251.8" stroke="#000" stroke-width="1.3" fill="none"/>
<path d="M338.4,251.3 H344.0 M341.2,248.5 V254.1" stroke="#000" stroke-width="1.3" fill="none"/>
<path d="M359.1,260.2 H364.7 M361.9,257.4 V263.0" stroke="#000" stroke-width="1.3" fill="none"/>
<path d="M361.8,260.4 H367.4 M364.6,257.6 V263.2" stroke="#000" stroke-width="1.3" fill="none"/>
<path d="M364.9,260.8 H370.5 M367.7,258.0 V263.6" stroke="#000" stroke-width="1.3" fill="none"/>
<path d="M402.4,267.9 H408.0 M405.2,265.1 V270.7" stroke="#000" stroke-width="1.3" fill="none"/>
<path d="M419.1,269.2 H424.7 M421.9,266.4 V272.0" stroke="#000" stroke-width="1.3" fill="none"/>
<path d="M424.5,272.7 H430.1 M427.3,269.9 V275.5" stroke="#000" stroke-width="1.3" fill="none"/>
<path d="M429.3,273.7 H434.9 M432.1,270.9 V276.5" stroke="#000" stroke-width="1.3" fill="none"/>
<path d="M434.1,274.2 H439.7 M436.9,271.4 V277.0" stroke="#000" stroke-width="1.3" fill="none"/>
<path d="M447.2,278.5 H452.8 M450.0,275.7 V281.3" stroke="#000" stroke-width="1.3" fill="none"/>
<path d="M459.5,278.5 H465.1 M462.3,275.7 V281.3" stroke="#000" stroke-width="1.3" fill="none"/>
<path d="M472.9,278.9 H478.5 M475.7,276.1 V281.7" stroke="#000" stroke-width="1.3" fill="none"/>
<path d="M478.4,280.8 H484.0 M481.2,278.0 V283.6" stroke="#000" stroke-width="1.3" fill="none"/>
<path d="M486.7,282.6 H492.3 M489.5,279.8 V285.4" stroke="#000" stroke-width="1.3" fill="none"/>
<path d="M503.0,282.6 H508.6 M505.8,279.8 V285.4" stroke="#000" stroke-width="1.3" fill="none"/>
<path d="M46.5,435.0 L56.4,435.0 L56.4,438.7 L70.8,438.7 L71.9,438.7 L71.9,440.9 L73.0,440.9 L73.0,443.0 L76.0,443.0 L76.0,446.7 L78.0,446.7 L78.0,448.6 L80.0,448.6 L80.0,450.5 L82.0,450.5 L82.0,453.2 L84.0,453.2 L84.0,456.0 L85.3,456.0 L85.3,458.7 L86.7,458.7 L86.7,461.3 L88.0,461.3 L88.0,464.0 L89.8,464.0 L89.8,467.2 L91.7,467.2 L91.7,470.5 L95.5,470.5 L95.5,474.2 L97.5,474.2 L97.5,475.6 L99.4,475.6 L99.4,477.0 L101.5,477.0 L101.5,478.8 L103.6,478.8 L103.6,480.5 L107.1,480.5 L107.1,484.0 L109.2,484.0 L109.2,484.8 L111.3,484.8 L111.3,485.5 L112.8,485.5 L112.8,488.5 L114.2,488.5 L114.2,491.5 L115.2,491.5 L115.2,494.1 L116.1,494.1 L116.1,496.6 L117.1,496.6 L117.1,499.2 L118.0,499.2 L118.0,502.4 L119.0,502.4 L119.0,505.5 L121.9,505.5 L121.9,508.1 L124.8,508.1 L124.8,510.8 L126.1,510.8 L126.1,513.0 L127.3,513.0 L127.3,515.3 L128.6,515.3 L128.6,517.5 L129.9,517.5 L129.9,519.8 L131.2,519.8 L131.2,522.2 L132.5,522.2 L132.5,524.5 L135.4,524.5 L135.4,527.5 L137.8,527.5 L137.8,529.4 L140.2,529.4 L140.2,531.2 L142.4,531.2 L142.4,534.0 L144.6,534.0 L144.6,536.9 L146.9,536.9 L146.9,540.0 L149.2,540.0 L149.2,543.1 L151.1,543.1 L151.1,543.9 L153.1,543.9 L153.1,544.6 L157.7,545.4 L159.6,545.4 L159.6,547.7 L161.5,547.7 L161.5,550.0 L162.5,550.0 L162.5,552.3 L163.6,552.3 L163.6,554.6 L164.6,554.6 L164.6,556.9 L165.4,556.9 L165.4,559.2 L166.2,559.2 L166.2,561.5 L169.2,561.5 L169.2,563.0 L172.3,563.0 L172.3,564.6 L176.2,564.6 L176.2,567.7 L178.8,567.7 L178.8,569.6 L181.5,569.6 L181.5,571.5 L183.8,571.5 L183.8,572.6 L186.2,572.6 L186.2,573.8 L187.7,573.8 L187.7,576.5 L189.2,576.5 L189.2,579.2 L190.2,579.2 L190.2,581.8 L191.3,581.8 L191.3,584.3 L192.3,584.3 L192.3,586.9 L193.2,586.9 L193.2,589.5 L194.2,589.5 L194.2,592.1 L195.1,592.1 L195.1,594.7 L196.0,594.7 L196.0,597.3 L197.6,597.3 L197.6,600.0 L199.1,600.0 L199.1,602.7 L200.6,602.7 L200.6,605.4 L202.2,605.4 L202.2,608.1 L204.2,608.1 L204.2,610.7 L206.3,610.7 L206.3,613.2 L208.3,613.2 L208.3,615.8 L209.8,615.8 L209.8,618.4 L211.4,618.4 L211.4,620.9 L212.9,620.9 L212.9,623.5 L215.0,623.5 L215.0,626.1 L217.0,626.1 L217.0,628.6 L219.1,628.6 L219.1,631.2 L222.1,631.2 L222.1,633.9 L225.2,633.9 L225.2,636.5 L227.8,636.5 L227.8,637.0 L230.3,637.0 L230.3,637.6 L232.9,637.6 L232.9,638.1 L235.6,638.1 L235.6,638.9 L238.3,638.9 L238.3,639.6 L240.6,639.6 L240.6,640.4 L242.9,640.4 L242.9,641.2 L242.9,647.7 L270.6,647.7 L272.2,647.7 L272.2,650.0 L276.0,650.0 L276.0,651.5 L277.5,651.5 L277.5,655.4 L279.8,655.4 L279.8,655.9 L282.2,655.9 L282.2,656.4 L284.5,656.4 L284.5,656.9 L286.0,656.9 L286.0,660.8 L289.1,660.8 L289.1,662.3 L291.4,662.3 L291.4,665.4 L294.5,665.4 L294.5,666.9 L296.0,668.0 L306.8,668.0 L306.8,673.3 L322.9,673.3 L322.9,676.6 L336.0,676.6 L336.0,680.0 L348.3,680.0" fill="none" stroke="#9c9c9c" stroke-width="2.6" stroke-linejoin="miter" />
<path d="M46.5,435.0 L56.4,435.0 L56.4,438.7 L70.8,438.7 L71.9,438.7 L71.9,440.9 L73.0,440.9 L73.0,443.0 L76.0,443.0 L76.0,446.7 L78.0,446.7 L78.0,448.6 L80.0,448.6 L80.0,450.5 L82.0,450.5 L82.0,453.2 L84.0,453.2 L84.0,456.0 L85.3,456.0 L85.3,458.7 L86.7,458.7 L86.7,461.3 L88.0,461.3 L88.0,464.0 L89.8,464.0 L89.8,467.2 L91.7,467.2 L91.7,470.5 L95.5,470.5 L95.5,474.2 L97.5,474.2 L97.5,475.6 L99.4,475.6 L99.4,477.0 L101.5,477.0 L101.5,478.8 L103.6,478.8 L103.6,480.5 L107.1,480.5 L107.1,484.0 L109.2,484.0 L109.2,484.8 L111.3,484.8 L111.3,485.5 L112.8,485.5 L112.8,488.5 L114.2,488.5 L114.2,491.5 L115.2,491.5 L115.2,494.1 L116.1,494.1 L116.1,496.6 L117.1,496.6 L117.1,499.2 L118.0,499.2 L118.0,502.4 L119.0,502.4 L119.0,505.5 L121.9,505.5 L121.9,508.1 L124.8,508.1 L124.8,510.8 L126.1,510.8 L126.1,513.0 L127.3,513.0 L127.3,515.3 L128.6,515.3 L128.6,517.5 L129.9,517.5 L129.9,519.8 L131.2,519.8 L131.2,522.2 L132.5,522.2 L132.5,524.5 L135.4,524.5 L135.4,527.5 L137.8,527.5 L137.8,529.4 L140.2,529.4 L140.2,531.2 L142.4,531.2 L142.4,534.0 L144.6,534.0 L144.6,536.9 L146.9,536.9 L146.9,540.0 L149.2,540.0 L149.2,543.1 L151.1,543.1 L151.1,543.9 L153.1,543.9 L153.1,544.6 L157.7,545.4 L159.6,545.4 L159.6,547.7 L161.5,547.7 L161.5,550.0 L162.5,550.0 L162.5,552.3 L163.6,552.3 L163.6,554.6 L164.6,554.6 L164.6,556.9 L165.4,556.9 L165.4,559.2 L166.2,559.2 L166.2,561.5 L169.2,561.5 L169.2,563.0 L172.3,563.0 L172.3,564.6 L176.2,564.6 L176.2,567.7 L178.8,567.7 L178.8,569.6 L181.5,569.6 L181.5,571.5 L183.8,571.5 L183.8,572.6 L186.2,572.6 L186.2,573.8 L187.7,573.8 L187.7,576.5 L189.2,576.5 L189.2,579.2 L190.2,579.2 L190.2,581.8 L191.3,581.8 L191.3,584.3 L192.3,584.3 L192.3,586.9 L193.2,586.9 L193.2,589.5 L194.2,589.5 L194.2,592.1 L195.1,592.1 L195.1,594.7 L196.0,594.7 L196.0,597.3 L197.6,597.3 L197.6,600.0 L199.1,600.0 L199.1,602.7 L200.6,602.7 L200.6,605.4 L202.2,605.4 L202.2,608.1 L204.2,608.1 L204.2,610.7 L206.3,610.7 L206.3,613.2 L208.3,613.2 L208.3,615.8 L209.8,615.8 L209.8,618.4 L211.4,618.4 L211.4,620.9 L212.9,620.9 L212.9,623.5 L215.0,623.5 L215.0,626.1 L217.0,626.1 L217.0,628.6 L219.1,628.6 L219.1,631.2 L222.1,631.2 L222.1,633.9 L225.2,633.9 L225.2,636.5 L227.8,636.5 L227.8,637.0 L230.3,637.0 L230.3,637.6 L232.9,637.6 L232.9,638.1 L235.6,638.1 L235.6,638.9 L238.3,638.9 L238.3,639.6 L240.6,639.6 L240.6,640.4 L242.9,640.4 L242.9,641.2 L242.9,647.7 L270.6,647.7 L272.2,647.7 L272.2,650.0 L276.0,650.0 L276.0,651.5 L277.5,651.5 L277.5,655.4 L279.8,655.4 L279.8,655.9 L282.2,655.9 L282.2,656.4 L284.5,656.4 L284.5,656.9 L286.0,656.9 L286.0,660.8 L289.1,660.8 L289.1,662.3 L291.4,662.3 L291.4,665.4 L294.5,665.4 L294.5,666.9 L296.0,668.0 L306.8,668.0 L306.8,673.3 L322.9,673.3 L322.9,676.6 L336.0,676.6 L336.0,680.0 L348.3,680.0" fill="none" stroke="#303030" stroke-width="2.6" stroke-linejoin="miter" stroke-dasharray="1.2 1.3" opacity="0.6"/>
<path d="M353.7,683.6 L371.4,683.6 L371.4,685.9 L404.5,685.9 L404.5,689.2 L416.3,689.2 L416.3,691.2 L424.0,691.2 L424.0,695.0 L441.3,695.0 L441.3,699.8 L445.2,699.8 L445.2,705.6 L498.1,705.6" fill="none" stroke="#9c9c9c" stroke-width="2.6" stroke-linejoin="miter" />
<path d="M353.7,683.6 L371.4,683.6 L371.4,685.9 L404.5,685.9 L404.5,689.2 L416.3,689.2 L416.3,691.2 L424.0,691.2 L424.0,695.0 L441.3,695.0 L441.3,699.8 L445.2,699.8 L445.2,705.6 L498.1,705.6" fill="none" stroke="#303030" stroke-width="2.6" stroke-linejoin="miter" stroke-dasharray="1.2 1.3" opacity="0.6"/>
<path d="M46.5,435.0 L88.6,435.0 L88.6,444.0 L126.3,444.0 L126.3,453.6 L137.6,453.6 L137.6,463.7 L146.0,463.7 L146.0,473.3 L155.2,473.3 L155.2,482.4 L171.0,482.4 L171.0,492.5 L177.7,492.5 L177.7,502.1 L187.3,502.1 L187.3,511.6 L202.0,511.6 L202.0,521.4 L209.0,521.4 L209.0,530.7 L225.2,530.7 L225.2,540.0 L238.3,540.0 L238.3,549.2 L240.6,549.2 L240.6,568.5 L249.1,568.5 L249.1,578.5 L259.6,578.5 L259.6,588.5 L269.4,588.5 L269.4,598.0 L317.4,598.0 L317.4,606.9 L324.5,606.9 L324.5,621.0 L341.0,621.0 L341.0,634.8 L344.9,634.8 L344.9,650.2 L506.2,650.2" fill="none" stroke="#808080" stroke-width="1.15" stroke-linejoin="miter" />
<path d="M47.0,434.9 L76.3,434.9 L77.8,437.0 L88.6,437.0 L88.6,439.2 L109.5,439.2 L114.0,444.3 L118.6,447.3 L124.7,448.2 L131.7,448.3 L136.3,449.5 L144.4,450.7 L151.2,450.7 L155.8,453.4 L161.6,454.4 L166.8,455.4 L174.9,456.5 L180.6,457.7 L186.3,459.4 L192.1,460.6 L195.6,462.9 L199.0,464.2 L219.9,464.6 L222.2,467.1 L227.6,474.6 L231.0,477.5 L233.9,478.0 L276.6,478.0 L276.6,492.7 L285.8,492.7" fill="none" stroke="#000" stroke-width="2.9" stroke-linejoin="miter" />
<path d="M158.7,453.9 L161.6,454.4 L166.8,455.4 L174.9,456.5 L180.6,457.7 L186.3,459.4 L192.1,460.6 L195.6,462.9 L199.0,464.2 L219.9,464.6 L222.2,467.1 L227.6,474.6 L231.0,477.5 L233.9,478.0 L276.0,478.0" fill="none" stroke="#000" stroke-width="3.4" stroke-linejoin="miter" />
<path d="M49.7,434.9 H54.9 M52.3,431.0 V438.8" stroke="#000" stroke-width="1.4" fill="none"/>
<path d="M69.8,434.9 H75.0 M72.4,431.0 V438.8" stroke="#000" stroke-width="1.4" fill="none"/>
<path d="M71.5,434.9 H76.7 M74.1,431.0 V438.8" stroke="#000" stroke-width="1.4" fill="none"/>
<path d="M81.4,437.0 H86.6 M84.0,433.1 V440.9" stroke="#000" stroke-width="1.4" fill="none"/>
<path d="M94.0,439.2 H99.2 M96.6,435.3 V443.1" stroke="#000" stroke-width="1.4" fill="none"/>
<path d="M97.5,439.2 H102.7 M100.1,435.3 V443.1" stroke="#000" stroke-width="1.4" fill="none"/>
<path d="M100.9,439.2 H106.1 M103.5,435.3 V443.1" stroke="#000" stroke-width="1.4" fill="none"/>
<path d="M103.8,439.2 H109.0 M106.4,435.3 V443.1" stroke="#000" stroke-width="1.4" fill="none"/>
<path d="M118.1,447.6 H123.3 M120.7,443.7 V451.5" stroke="#000" stroke-width="1.4" fill="none"/>
<path d="M123.3,448.2 H128.5 M125.9,444.3 V452.1" stroke="#000" stroke-width="1.4" fill="none"/>
<path d="M136.0,449.8 H141.2 M138.6,445.9 V453.7" stroke="#000" stroke-width="1.4" fill="none"/>
<path d="M141.8,450.7 H147.0 M144.4,446.8 V454.6" stroke="#000" stroke-width="1.4" fill="none"/>
<path d="M149.5,451.2 H154.7 M152.1,447.3 V455.1" stroke="#000" stroke-width="1.4" fill="none"/>
<path d="M156.1,453.9 H161.3 M158.7,450.0 V457.8" stroke="#000" stroke-width="1.4" fill="none"/>
<path d="M161.7,451.5 V456.7" stroke="#000" stroke-width="1.3"/>
<rect x="161.0" y="458.3" width="1.6" height="1.7" fill="#000"/>
<path d="M164.3,452.0 V457.2" stroke="#000" stroke-width="1.3"/>
<rect x="163.6" y="458.8" width="1.6" height="1.7" fill="#000"/>
<path d="M166.7,452.4 V457.6" stroke="#000" stroke-width="1.3"/>
<rect x="166.0" y="459.2" width="1.6" height="1.7" fill="#000"/>
<path d="M169.9,452.8 V458.0" stroke="#000" stroke-width="1.3"/>
<rect x="169.1" y="459.6" width="1.6" height="1.7" fill="#000"/>
<path d="M173.4,453.3 V458.5" stroke="#000" stroke-width="1.3"/>
<rect x="172.6" y="460.1" width="1.6" height="1.7" fill="#000"/>
<path d="M176.7,453.9 V459.1" stroke="#000" stroke-width="1.3"/>
<rect x="175.9" y="460.7" width="1.6" height="1.7" fill="#000"/>
<path d="M179.1,454.4 V459.6" stroke="#000" stroke-width="1.3"/>
<rect x="178.4" y="461.2" width="1.6" height="1.7" fill="#000"/>
<path d="M183.5,455.6 V460.8" stroke="#000" stroke-width="1.3"/>
<rect x="182.7" y="462.4" width="1.6" height="1.7" fill="#000"/>
<path d="M186.3,456.4 V461.6" stroke="#000" stroke-width="1.3"/>
<rect x="185.5" y="463.2" width="1.6" height="1.7" fill="#000"/>
<path d="M190.9,457.3 V462.5" stroke="#000" stroke-width="1.3"/>
<rect x="190.2" y="464.1" width="1.6" height="1.7" fill="#000"/>
<path d="M194.2,458.9 V464.1" stroke="#000" stroke-width="1.3"/>
<path d="M196.5,460.2 V465.4" stroke="#000" stroke-width="1.3"/>
<path d="M199.4,461.2 V466.4" stroke="#000" stroke-width="1.3"/>
<rect x="198.7" y="468.0" width="1.6" height="1.7" fill="#000"/>
<path d="M201.9,461.2 V466.4" stroke="#000" stroke-width="1.3"/>
<rect x="201.2" y="468.0" width="1.6" height="1.7" fill="#000"/>
<path d="M206.3,461.3 V466.5" stroke="#000" stroke-width="1.3"/>
<rect x="205.5" y="468.1" width="1.6" height="1.7" fill="#000"/>
<path d="M210.0,461.4 V466.6" stroke="#000" stroke-width="1.3"/>
<rect x="209.2" y="468.2" width="1.6" height="1.7" fill="#000"/>
<path d="M213.1,461.4 V466.6" stroke="#000" stroke-width="1.3"/>
<rect x="212.4" y="468.2" width="1.6" height="1.7" fill="#000"/>
<path d="M215.5,461.5 V466.7" stroke="#000" stroke-width="1.3"/>
<rect x="214.8" y="468.3" width="1.6" height="1.7" fill="#000"/>
<path d="M218.2,461.5 V466.7" stroke="#000" stroke-width="1.3"/>
<rect x="217.5" y="468.3" width="1.6" height="1.7" fill="#000"/>
<path d="M221.6,463.4 V468.6" stroke="#000" stroke-width="1.3"/>
<rect x="220.8" y="470.2" width="1.6" height="1.7" fill="#000"/>
<path d="M225.3,468.4 V473.6" stroke="#000" stroke-width="1.3"/>
<rect x="224.5" y="475.2" width="1.6" height="1.7" fill="#000"/>
<path d="M228.3,472.2 V477.4" stroke="#000" stroke-width="1.3"/>
<path d="M232.3,474.8 V480.0" stroke="#000" stroke-width="1.3"/>
<rect x="231.5" y="481.6" width="1.6" height="1.7" fill="#000"/>
<path d="M236.0,475.0 V480.2" stroke="#000" stroke-width="1.3"/>
<rect x="235.2" y="481.8" width="1.6" height="1.7" fill="#000"/>
<path d="M240.4,475.0 V480.2" stroke="#000" stroke-width="1.3"/>
<rect x="239.7" y="481.8" width="1.6" height="1.7" fill="#000"/>
<path d="M243.4,475.0 V480.2" stroke="#000" stroke-width="1.3"/>
<path d="M245.9,475.0 V480.2" stroke="#000" stroke-width="1.3"/>
<rect x="245.1" y="481.8" width="1.6" height="1.7" fill="#000"/>
<path d="M250.1,475.0 V480.2" stroke="#000" stroke-width="1.3"/>
<rect x="249.3" y="481.8" width="1.6" height="1.7" fill="#000"/>
<path d="M253.5,475.0 V480.2" stroke="#000" stroke-width="1.3"/>
<rect x="252.8" y="481.8" width="1.6" height="1.7" fill="#000"/>
<path d="M257.5,475.0 V480.2" stroke="#000" stroke-width="1.3"/>
<path d="M261.2,475.0 V480.2" stroke="#000" stroke-width="1.3"/>
<path d="M264.2,475.0 V480.2" stroke="#000" stroke-width="1.3"/>
<rect x="263.4" y="481.8" width="1.6" height="1.7" fill="#000"/>
<path d="M267.9,475.0 V480.2" stroke="#000" stroke-width="1.3"/>
<rect x="267.2" y="481.8" width="1.6" height="1.7" fill="#000"/>
<path d="M271.3,475.0 V480.2" stroke="#000" stroke-width="1.3"/>
<path d="M276.0,475.0 V480.2" stroke="#000" stroke-width="1.3"/>
<rect x="275.2" y="481.8" width="1.6" height="1.7" fill="#000"/>
<path d="M275.0,492.7 H285.8" stroke="#000" stroke-width="3.6"/>
<path d="M280.2,493.5 H285.2 M282.7,489.5 V497.5" stroke="#000" stroke-width="1.5" fill="none"/>
<path d="M55.6,443.1 L55.6,459.9" fill="none" stroke="#000" stroke-width="3.0" stroke-linejoin="miter" stroke-linecap="butt" stroke-linejoin="miter"/>
<path d="M68.6,446.9 L74.3,446.9" fill="none" stroke="#000" stroke-width="3.0" stroke-linejoin="miter" stroke-linecap="butt" stroke-linejoin="miter"/>
<path d="M72.8,447.2 L72.8,456.0" fill="none" stroke="#000" stroke-width="3.0" stroke-linejoin="miter" stroke-linecap="butt" stroke-linejoin="miter"/>
<path d="M73.3,442.8 L77.3,442.8" fill="none" stroke="#000" stroke-width="3.0" stroke-linejoin="miter" stroke-linecap="butt" stroke-linejoin="miter"/>
<path d="M80.5,450.1 L85.7,450.1" fill="none" stroke="#000" stroke-width="3.0" stroke-linejoin="miter" stroke-linecap="butt" stroke-linejoin="miter"/>
<path d="M83.8,459.5 L83.8,464.8" fill="none" stroke="#000" stroke-width="3.0" stroke-linejoin="miter" stroke-linecap="butt" stroke-linejoin="miter"/>
<path d="M95.3,450.5 L98.7,450.5 L98.7,452.5" fill="none" stroke="#000" stroke-width="3.0" stroke-linejoin="miter" stroke-linecap="butt" stroke-linejoin="miter"/>
<path d="M102.5,457.9 L108.7,457.9" fill="none" stroke="#000" stroke-width="3.0" stroke-linejoin="miter" stroke-linecap="butt" stroke-linejoin="miter"/>
<path d="M110.5,466.2 L116.1,466.2" fill="none" stroke="#000" stroke-width="3.0" stroke-linejoin="miter" stroke-linecap="butt" stroke-linejoin="miter"/>
<path d="M61.6,468.6 L61.6,477.4 L67.2,477.4 L67.2,486.5 L72.2,486.5" fill="none" stroke="#000" stroke-width="3.0" stroke-linejoin="miter" stroke-linecap="butt" stroke-linejoin="miter"/>
<path d="M86.5,476.0 L87.6,489.7" fill="none" stroke="#000" stroke-width="3.0" stroke-linejoin="miter" stroke-linecap="butt" stroke-linejoin="miter"/>
<path d="M77.9,494.7 L77.9,503.2 L93.5,503.2" fill="none" stroke="#000" stroke-width="3.0" stroke-linejoin="miter" stroke-linecap="butt" stroke-linejoin="miter"/>
<path d="M88.6,503.5 L88.6,506.9" fill="none" stroke="#000" stroke-width="3.0" stroke-linejoin="miter" stroke-linecap="butt" stroke-linejoin="miter"/>
<path d="M93.3,501.3 L93.3,506.9" fill="none" stroke="#000" stroke-width="3.0" stroke-linejoin="miter" stroke-linecap="butt" stroke-linejoin="miter"/>
<path d="M100.9,519.6 L100.9,537.7 L105.1,537.7" fill="none" stroke="#000" stroke-width="3.0" stroke-linejoin="miter" stroke-linecap="butt" stroke-linejoin="miter"/>
<path d="M110.6,545.8 L120.9,545.8 L120.9,554.2 L130.1,554.2" fill="none" stroke="#000" stroke-width="3.0" stroke-linejoin="miter" stroke-linecap="butt" stroke-linejoin="miter"/>
<path d="M118.9,519.3 L124.5,519.3" fill="none" stroke="#000" stroke-width="3.0" stroke-linejoin="miter" stroke-linecap="butt" stroke-linejoin="miter"/>
<path d="M124.9,466.2 L131.2,466.2" fill="none" stroke="#000" stroke-width="3.0" stroke-linejoin="miter" stroke-linecap="butt" stroke-linejoin="miter"/>
<path d="M132.4,473.8 L139.5,473.8" fill="none" stroke="#000" stroke-width="3.0" stroke-linejoin="miter" stroke-linecap="butt" stroke-linejoin="miter"/>
<path d="M146.2,476.5 L146.2,481.6" fill="none" stroke="#000" stroke-width="3.0" stroke-linejoin="miter" stroke-linecap="butt" stroke-linejoin="miter"/>
<path d="M147.5,489.0 L154.1,489.0" fill="none" stroke="#000" stroke-width="3.0" stroke-linejoin="miter" stroke-linecap="butt" stroke-linejoin="miter"/>
<path d="M156.1,496.9 L161.8,496.9" fill="none" stroke="#000" stroke-width="3.0" stroke-linejoin="miter" stroke-linecap="butt" stroke-linejoin="miter"/>
<path d="M171.9,497.0 L175.6,497.0 L175.6,499.9" fill="none" stroke="#000" stroke-width="3.0" stroke-linejoin="miter" stroke-linecap="butt" stroke-linejoin="miter"/>
<path d="M179.9,504.6 L183.5,504.6 L183.5,506.9" fill="none" stroke="#000" stroke-width="3.0" stroke-linejoin="miter" stroke-linecap="butt" stroke-linejoin="miter"/>
<path d="M188.3,511.8 L188.3,515.5" fill="none" stroke="#000" stroke-width="3.0" stroke-linejoin="miter" stroke-linecap="butt" stroke-linejoin="miter"/>
<path d="M196.4,519.1 L196.4,524.1" fill="none" stroke="#000" stroke-width="3.0" stroke-linejoin="miter" stroke-linecap="butt" stroke-linejoin="miter"/>
<path d="M203.5,526.4 L204.2,526.8 L204.2,530.7" fill="none" stroke="#000" stroke-width="3.0" stroke-linejoin="miter" stroke-linecap="butt" stroke-linejoin="miter"/>
<path d="M207.5,537.3 L207.5,543.9" fill="none" stroke="#000" stroke-width="3.0" stroke-linejoin="miter" stroke-linecap="butt" stroke-linejoin="miter"/>
<path d="M210.8,550.8 L216.5,550.8" fill="none" stroke="#000" stroke-width="3.0" stroke-linejoin="miter" stroke-linecap="butt" stroke-linejoin="miter"/>
<path d="M137.8,519.3 L146.0,519.3 L146.0,524.9" fill="none" stroke="#000" stroke-width="3.0" stroke-linejoin="miter" stroke-linecap="butt" stroke-linejoin="miter"/>
<path d="M152.3,532.2 L152.3,537.4" fill="none" stroke="#000" stroke-width="3.0" stroke-linejoin="miter" stroke-linecap="butt" stroke-linejoin="miter"/>
<path d="M160.9,543.1 L175.3,543.1" fill="none" stroke="#000" stroke-width="3.0" stroke-linejoin="miter" stroke-linecap="butt" stroke-linejoin="miter"/>
<path d="M178.0,554.8 L182.1,554.8" fill="none" stroke="#000" stroke-width="3.0" stroke-linejoin="miter" stroke-linecap="butt" stroke-linejoin="miter"/>
<path d="M195.5,555.4 L209.7,555.4" fill="none" stroke="#000" stroke-width="3.0" stroke-linejoin="miter" stroke-linecap="butt" stroke-linejoin="miter"/>
<path d="M134.9,563.1 L162.8,563.1" fill="none" stroke="#000" stroke-width="3.0" stroke-linejoin="miter" stroke-linecap="butt" stroke-linejoin="miter"/>
<path d="M175.7,563.1 L196.9,563.1 L196.9,569.7" fill="none" stroke="#000" stroke-width="3.0" stroke-linejoin="miter" stroke-linecap="butt" stroke-linejoin="miter"/>
<path d="M226.3,550.8 L231.1,550.8" fill="none" stroke="#000" stroke-width="3.0" stroke-linejoin="miter" stroke-linecap="butt" stroke-linejoin="miter"/>
<path d="M223.7,554.9 L223.7,560.5" fill="none" stroke="#000" stroke-width="3.0" stroke-linejoin="miter" stroke-linecap="butt" stroke-linejoin="miter"/>
<path d="M234.0,558.5 L238.8,558.5" fill="none" stroke="#000" stroke-width="3.0" stroke-linejoin="miter" stroke-linecap="butt" stroke-linejoin="miter"/>
<path d="M246.8,561.1 L246.8,565.9" fill="none" stroke="#000" stroke-width="3.0" stroke-linejoin="miter" stroke-linecap="butt" stroke-linejoin="miter"/>
<path d="M256.1,566.9 L261.6,566.9" fill="none" stroke="#000" stroke-width="3.0" stroke-linejoin="miter" stroke-linecap="butt" stroke-linejoin="miter"/>
<path d="M269.2,569.1 L269.2,574.7" fill="none" stroke="#000" stroke-width="3.0" stroke-linejoin="miter" stroke-linecap="butt" stroke-linejoin="miter"/>
<path d="M272.2,581.5 L275.8,581.5 L276.1,582.9" fill="none" stroke="#000" stroke-width="3.0" stroke-linejoin="miter" stroke-linecap="butt" stroke-linejoin="miter"/>
<path d="M209.8,570.9 L209.8,580.0 L230.3,580.0" fill="none" stroke="#000" stroke-width="3.0" stroke-linejoin="miter" stroke-linecap="butt" stroke-linejoin="miter"/>
<path d="M230.2,568.0 L230.2,581.2" fill="none" stroke="#000" stroke-width="3.0" stroke-linejoin="miter" stroke-linecap="butt" stroke-linejoin="miter"/>
<path d="M232.9,589.1 L261.7,589.1" fill="none" stroke="#000" stroke-width="3.0" stroke-linejoin="miter" stroke-linecap="butt" stroke-linejoin="miter"/>
<path d="M273.9,589.0 L301.9,589.0" fill="none" stroke="#000" stroke-width="3.0" stroke-linejoin="miter" stroke-linecap="butt" stroke-linejoin="miter"/>
<path d="M314.8,589.0 L344.0,589.0" fill="none" stroke="#000" stroke-width="3.0" stroke-linejoin="miter" stroke-linecap="butt" stroke-linejoin="miter"/>
<path d="M293.3,591.1 L293.3,601.2" fill="none" stroke="#000" stroke-width="3.0" stroke-linejoin="miter" stroke-linecap="butt" stroke-linejoin="miter"/>
<path d="M295.0,605.3 L295.0,610.9" fill="none" stroke="#000" stroke-width="3.0" stroke-linejoin="miter" stroke-linecap="butt" stroke-linejoin="miter"/>
<path d="M258.6,614.8 L264.2,614.8" fill="none" stroke="#000" stroke-width="3.0" stroke-linejoin="miter" stroke-linecap="butt" stroke-linejoin="miter"/>
<path d="M277.8,614.6 L291.9,614.6" fill="none" stroke="#000" stroke-width="3.0" stroke-linejoin="miter" stroke-linecap="butt" stroke-linejoin="miter"/>
<path d="M303.4,612.4 L309.1,612.4" fill="none" stroke="#000" stroke-width="3.0" stroke-linejoin="miter" stroke-linecap="butt" stroke-linejoin="miter"/>
<path d="M315.2,615.7 L315.2,620.9" fill="none" stroke="#000" stroke-width="3.0" stroke-linejoin="miter" stroke-linecap="butt" stroke-linejoin="miter"/>
<path d="M356.5,588.6 L357.7,588.6 L357.7,597.7 L375.1,597.7" fill="none" stroke="#000" stroke-width="3.0" stroke-linejoin="miter" stroke-linecap="butt" stroke-linejoin="miter"/>
<path d="M388.8,597.4 L392.3,597.4 L392.3,606.2 L397.7,606.2 L397.7,615.9" fill="none" stroke="#000" stroke-width="3.0" stroke-linejoin="miter" stroke-linecap="butt" stroke-linejoin="miter"/>
<path d="M244.0,601.9 L246.0,601.9 L246.0,613.2" fill="none" stroke="#000" stroke-width="3.0" stroke-linejoin="miter" stroke-linecap="butt" stroke-linejoin="miter"/>
<path d="M314.0,627.2 L314.0,639.3" fill="none" stroke="#000" stroke-width="3.0" stroke-linejoin="miter" stroke-linecap="butt" stroke-linejoin="miter"/>
<path d="M322.7,624.5 L322.7,628.4" fill="none" stroke="#000" stroke-width="3.0" stroke-linejoin="miter" stroke-linecap="butt" stroke-linejoin="miter"/>
<path d="M330.2,632.6 L330.2,635.9" fill="none" stroke="#000" stroke-width="3.0" stroke-linejoin="miter" stroke-linecap="butt" stroke-linejoin="miter"/>
<path d="M325.9,641.6 L325.9,646.8" fill="none" stroke="#000" stroke-width="3.0" stroke-linejoin="miter" stroke-linecap="butt" stroke-linejoin="miter"/>
<path d="M336.3,651.5 L344.3,651.5" fill="none" stroke="#000" stroke-width="3.0" stroke-linejoin="miter" stroke-linecap="butt" stroke-linejoin="miter"/>
<path d="M345.2,650.3 L345.2,655.5" fill="none" stroke="#000" stroke-width="3.0" stroke-linejoin="miter" stroke-linecap="butt" stroke-linejoin="miter"/>
<path d="M348.8,644.0 L354.3,644.0" fill="none" stroke="#000" stroke-width="3.0" stroke-linejoin="miter" stroke-linecap="butt" stroke-linejoin="miter"/>
<path d="M356.4,651.5 L362.0,651.5" fill="none" stroke="#000" stroke-width="3.0" stroke-linejoin="miter" stroke-linecap="butt" stroke-linejoin="miter"/>
<path d="M370.3,651.5 L377.1,651.5" fill="none" stroke="#000" stroke-width="3.0" stroke-linejoin="miter" stroke-linecap="butt" stroke-linejoin="miter"/>
<path d="M300.2,619.7 L300.2,626.0" fill="none" stroke="#000" stroke-width="3.0" stroke-linejoin="miter" stroke-linecap="butt" stroke-linejoin="miter"/>
<path d="M387.0,651.5 L392.2,651.5" fill="none" stroke="#000" stroke-width="3.0" stroke-linejoin="miter" stroke-linecap="butt" stroke-linejoin="miter"/>
<path d="M402.4,651.5 L407.7,651.5" fill="none" stroke="#000" stroke-width="3.0" stroke-linejoin="miter" stroke-linecap="butt" stroke-linejoin="miter"/>
<path d="M418.0,651.5 L422.0,651.5" fill="none" stroke="#000" stroke-width="3.0" stroke-linejoin="miter" stroke-linecap="butt" stroke-linejoin="miter"/>
<path d="M350.3,664.4 L355.7,664.4" fill="none" stroke="#000" stroke-width="3.0" stroke-linejoin="miter" stroke-linecap="butt" stroke-linejoin="miter"/>
<path d="M369.6,664.4 L383.5,664.4" fill="none" stroke="#000" stroke-width="3.0" stroke-linejoin="miter" stroke-linecap="butt" stroke-linejoin="miter"/>
<path d="M396.6,664.4 L402.4,664.4" fill="none" stroke="#000" stroke-width="3.0" stroke-linejoin="miter" stroke-linecap="butt" stroke-linejoin="miter"/>
<path d="M410.7,617.1 L438.9,617.1" fill="none" stroke="#000" stroke-width="3.0" stroke-linejoin="miter" stroke-linecap="butt" stroke-linejoin="miter"/>
<path d="M451.5,617.1 L478.2,617.1" fill="none" stroke="#000" stroke-width="3.0" stroke-linejoin="miter" stroke-linecap="butt" stroke-linejoin="miter"/>
<path d="M431.1,669.2 L436.6,669.2" fill="none" stroke="#000" stroke-width="3.0" stroke-linejoin="miter" stroke-linecap="butt" stroke-linejoin="miter"/>
<path d="M444.9,669.2 L451.2,669.2" fill="none" stroke="#000" stroke-width="3.0" stroke-linejoin="miter" stroke-linecap="butt" stroke-linejoin="miter"/>
<path d="M460.3,669.2 L466.6,669.2" fill="none" stroke="#000" stroke-width="3.0" stroke-linejoin="miter" stroke-linecap="butt" stroke-linejoin="miter"/>
<path d="M475.7,669.2 L482.0,669.2" fill="none" stroke="#000" stroke-width="3.0" stroke-linejoin="miter" stroke-linecap="butt" stroke-linejoin="miter"/>
<path d="M277.6,598.1 H284.2 M280.9,594.5 V601.7" stroke="#000" stroke-width="1.6" fill="none"/>
<path d="M290.2,598.1 H296.8 M293.5,594.5 V601.7" stroke="#000" stroke-width="1.6" fill="none"/>
<path d="M318.2,607.9 H324.8 M321.5,604.3 V611.5" stroke="#000" stroke-width="1.6" fill="none"/>
<path d="M324.0,621.2 H330.6 M327.3,617.6 V624.8" stroke="#000" stroke-width="1.6" fill="none"/>
<path d="M340.2,635.2 H346.8 M343.5,631.6 V638.8" stroke="#000" stroke-width="1.6" fill="none"/>
<path d="M328.6,651.7 H335.2 M331.9,648.1 V655.3" stroke="#000" stroke-width="1.6" fill="none"/>
<path d="M366.5,651.5 H373.1 M369.8,647.9 V655.1" stroke="#000" stroke-width="1.6" fill="none"/>
<path d="M417.7,651.5 H424.3 M421.0,647.9 V655.1" stroke="#000" stroke-width="1.6" fill="none"/>
<path d="M422.9,660.8 H429.5 M426.2,657.2 V664.4" stroke="#000" stroke-width="1.6" fill="none"/>
<path d="M436.7,669.2 H443.3 M440.0,665.6 V672.8" stroke="#000" stroke-width="1.6" fill="none"/>
<path d="M339.8,589.0 H346.4 M343.1,585.4 V592.6" stroke="#000" stroke-width="1.6" fill="none"/>
<path d="M362.4,597.7 H369.0 M365.7,594.1 V601.3" stroke="#000" stroke-width="1.6" fill="none"/>
<path d="M474.0,617.1 H480.6 M477.3,613.5 V620.7" stroke="#000" stroke-width="1.6" fill="none"/>
<path d="M478.6,627.4 H485.2 M481.9,623.8 V631.0" stroke="#000" stroke-width="1.6" fill="none"/>
<path d="M502.9,650.3 H509.5 M506.2,646.7 V653.9" stroke="#000" stroke-width="1.6" fill="none"/>
<path d="M403.4,689.2 H410.0 M406.7,685.6 V692.8" stroke="#000" stroke-width="1.6" fill="none"/>
<path d="M427.5,695.0 H434.1 M430.8,691.4 V698.6" stroke="#000" stroke-width="1.6" fill="none"/>
<path d="M431.3,695.0 H437.9 M434.6,691.4 V698.6" stroke="#000" stroke-width="1.6" fill="none"/>
<path d="M436.1,695.0 H442.7 M439.4,691.4 V698.6" stroke="#000" stroke-width="1.6" fill="none"/>
<path d="M94.0,519.3 H106.8 M100.4,508.6 V530.0" stroke="#000" stroke-width="1.8" fill="none"/>
<path d="M451.0,702.2 V709.0" stroke="#000" stroke-width="1.4"/>
<path d="M462.5,702.2 V709.0" stroke="#000" stroke-width="1.4"/>
<path d="M480.3,702.2 V709.0" stroke="#000" stroke-width="1.4"/>
<path d="M490.2,702.2 V709.0" stroke="#000" stroke-width="1.4"/>
</g>
</svg></body></html>
